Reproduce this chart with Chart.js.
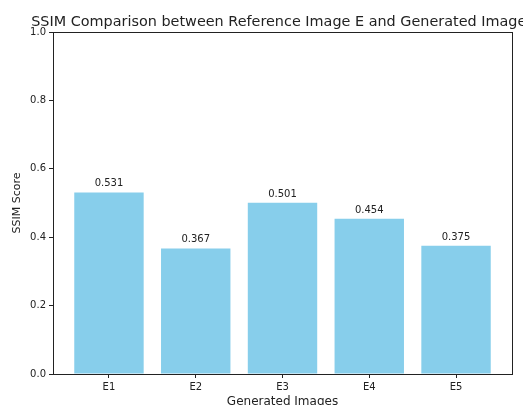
<!DOCTYPE html>
<html>
<head>
    <title>SSIM Comparison</title>
    <script src="https://cdn.jsdelivr.net/npm/chart.js@4.4.0/dist/chart.umd.min.js"></script>
    <style>
        body {
            margin: 0;
            background: #fff;
        }
        #wrap {
            width: 523px;
            height: 405px;
        }
    </style>
</head>
<body>
    <div id="wrap">
        <canvas id="ssimChart" width="523" height="405"></canvas>
    </div>

    <script>
        const titleText = 'SSIM Comparison between Reference Image E and Generated Images';
        const categories = ['E1', 'E2', 'E3', 'E4', 'E5'];
        const ssimScores = [0.531, 0.367, 0.501, 0.454, 0.375];
        const yTicks = [0, 0.2, 0.4, 0.6, 0.8, 1.0];

        const FONT = 'DejaVu Sans';
        const INK = '#222';

        // title is centred over the axes, not the canvas (like matplotlib)
        const axesTitle = {
            id: 'axesTitle',
            afterDraw(chart) {
                const {ctx, chartArea} = chart;
                ctx.save();
                ctx.font = '14.4px "' + FONT + '"';
                ctx.fillStyle = INK;
                ctx.textAlign = 'center';
                ctx.textBaseline = 'alphabetic';
                ctx.fillText(titleText, (chartArea.left + chartArea.right) / 2, 25.5);
                ctx.restore();
            }
        };

        // full box around the plot
        const frame = {
            id: 'frame',
            afterDatasetsDraw(chart) {
                const {ctx, chartArea} = chart;
                ctx.save();
                ctx.strokeStyle = '#222';
                ctx.lineWidth = 1;
                ctx.strokeRect(Math.round(chartArea.left) + 0.5, Math.round(chartArea.top) + 0.5,
                    Math.round(chartArea.right - chartArea.left), Math.round(chartArea.bottom - chartArea.top));
                ctx.restore();
            }
        };

        // value labels above the bars
        const barValues = {
            id: 'barValues',
            afterDatasetsDraw(chart) {
                const {ctx} = chart;
                const meta = chart.getDatasetMeta(0);
                ctx.save();
                ctx.font = '10px "' + FONT + '"';
                ctx.fillStyle = INK;
                ctx.textAlign = 'center';
                ctx.textBaseline = 'alphabetic';
                meta.data.forEach((bar, i) => {
                    ctx.fillText(ssimScores[i].toFixed(3), bar.x, bar.y - 6);
                });
                ctx.restore();
            }
        };

        const ctx = document.getElementById('ssimChart').getContext('2d');
        const chart = new Chart(ctx, {
            type: 'bar',
            data: {
                datasets: [{
                    data: ssimScores.map((v, i) => ({x: i, y: v})),
                    backgroundColor: '#87CEEB',
                    borderWidth: 0,
                    barPercentage: 0.8,
                    categoryPercentage: 1.0
                }]
            },
            options: {
                responsive: false,
                animation: false,
                layout: { padding: { top: 32, right: 11, left: 0, bottom: 0 } },
                plugins: {
                    legend: { display: false },
                    tooltip: { enabled: false }
                },
                scales: {
                    x: {
                        type: 'linear',
                        min: -0.645,
                        max: 4.645,
                        offset: false,
                        afterFit: s => { s.height = 31; },
                        afterBuildTicks: s => { s.ticks = categories.map((c, i) => ({value: i})); },
                        ticks: {
                            callback: v => categories[v],
                            color: INK,
                            font: { family: FONT, size: 10 },
                            padding: 3,
                            maxRotation: 0,
                            autoSkip: false
                        },
                        grid: { offset: false, drawOnChartArea: false, drawTicks: true, tickLength: 4, color: '#222' },
                        border: { display: true, color: '#222' },
                        title: {
                            display: true,
                            text: 'Generated Images',
                            color: INK,
                            font: { family: FONT, size: 12, lineHeight: 0.6 },
                            padding: { top: 0, bottom: 0 }
                        }
                    },
                    y: {
                        min: 0,
                        max: 1,
                        afterFit: s => { s.width = 53; },
                        afterBuildTicks: s => { s.ticks = yTicks.map(v => ({value: v})); },
                        ticks: {
                            callback: v => v.toFixed(1),
                            color: INK,
                            font: { family: FONT, size: 10 },
                            padding: 3
                        },
                        grid: { drawOnChartArea: false, drawTicks: true, tickLength: 4, color: '#222' },
                        border: { display: true, color: '#222' },
                        title: {
                            display: true,
                            text: 'SSIM Score',
                            color: INK,
                            font: { family: FONT, size: 11, lineHeight: 1 },
                            padding: { top: 11.5, bottom: 0 }
                        }
                    }
                }
            },
            plugins: [frame, barValues, axesTitle]
        });
    </script>
</body>
</html>
